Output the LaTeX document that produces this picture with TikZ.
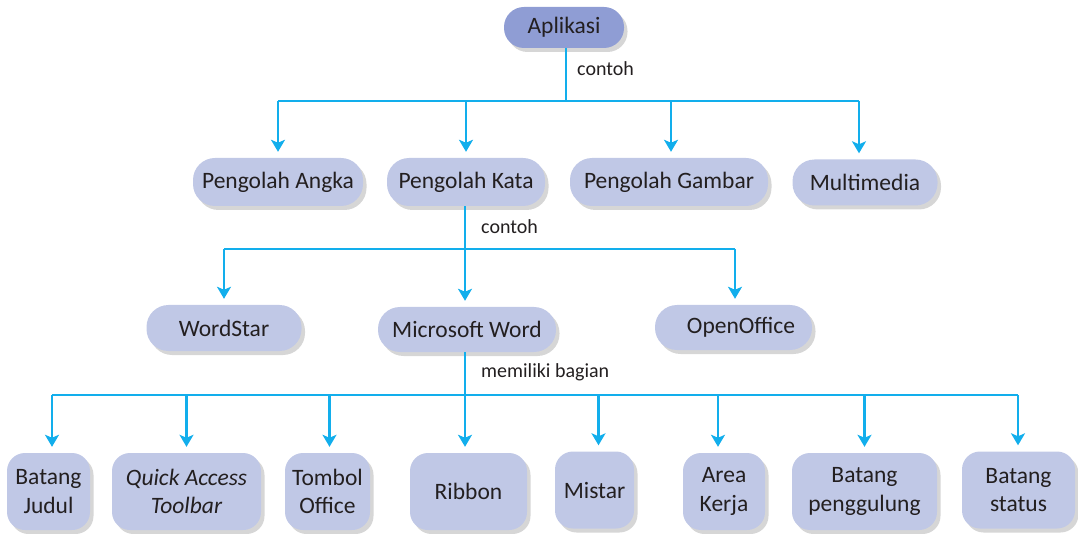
\documentclass[tikz,border=0pt]{standalone}
\usepackage{fontspec}
\setmainfont{Carlito}
\usetikzlibrary{arrows.meta,shadows}
\definecolor{linec}{HTML}{12AEEC}
\definecolor{boxc}{HTML}{C0C8E6}
\definecolor{topc}{HTML}{8F9DD4}
\definecolor{txtc}{HTML}{231F20}
\tikzset{
  box/.style={draw=none, fill=boxc, text=txtc, inner sep=0pt, align=center,
    font=\fontsize{23.5}{28.5}\selectfont,
    drop shadow={shadow xshift=3.5pt, shadow yshift=-4pt, fill=black, opacity=0.16}},
  pill/.style={box, rounded corners=22pt, minimum height=48pt},
  leaf/.style={box, rounded corners=18pt, minimum height=77pt},
  conn/.style={draw=linec, line width=2.6pt},
  arr/.style={conn, -{Stealth[width=14pt,length=12pt,inset=3pt]}, shorten >=6pt},
  lab/.style={anchor=west, text=txtc, font=\fontsize{20}{24}\selectfont, inner sep=0pt}
}
\begin{document}
\begin{tikzpicture}[x=1pt,y=-1pt]
\useasboundingbox (0,0) rectangle (1078,534);
% level 1
\node[pill, fill=topc, rounded corners=20pt, minimum width=120pt, minimum height=41pt] (aplikasi) at (564,27.5) {Aplikasi};
% level 2
\node[pill, minimum width=170pt] (angka) at (278,182) {Pengolah Angka};
\node[pill, minimum width=158pt] (kata) at (466,182) {Pengolah Kata};
\node[pill, minimum width=198pt] (gambar) at (669,182) {Pengolah Gambar};
\node[pill, minimum width=145pt, minimum height=46pt] (multi) at (865,182.5) {Multimedia};
% level 3
\node[pill, minimum width=155pt, minimum height=46pt] (wordstar) at (224,328) {WordStar};
\node[pill, minimum width=178pt, minimum height=45pt] (msword) at (467,329.5) {Microsoft Word};
\node[pill, minimum width=157pt, minimum height=45pt] (oo) at (733.5,327.5) {\hspace*{15pt}OpenOffice};
% level 4
\node[leaf, minimum width=83pt] (judul) at (48.5,491.5) {Batang\\Judul};
\node[leaf, minimum width=149pt] (qat) at (186.5,491.5) {\itshape Quick Access\\\itshape Toolbar};
\node[leaf, minimum width=85pt] (tombol) at (327.5,491.5) {Tombol\\Office};
\node[leaf, minimum width=117pt] (ribbon) at (468.5,491.5) {Ribbon};
\node[leaf, minimum width=79pt] (mistar) at (594.5,490) {Mistar};
\node[leaf, minimum width=82pt] (area) at (724,491.5) {Area\\Kerja};
\node[leaf, minimum width=145pt] (penggulung) at (864.5,491.5) {Batang\\penggulung};
\node[leaf, minimum width=113pt] (status) at (1018.5,490) {Batang\\status};
% bus coordinates
\coordinate (b1) at (566,101);
\coordinate (b1l) at (278,101);
\coordinate (b1r) at (859,101);
\coordinate (b2) at (465,249);
\coordinate (b2l) at (224,249);
\coordinate (b2r) at (735,249);
\coordinate (b3) at (465,395);
\coordinate (b3l) at (52,395);
\coordinate (b3r) at (1018,395);
% level 1 -> 2
\draw[conn] (aplikasi.south -| b1) -- (b1);
\draw[conn] (b1l) -- (b1r);
\draw[arr] (b1l) -- (angka.north -| b1l);
\draw[arr] (kata.north |- b1) -- (kata.north);
\draw[arr] ([xshift=2pt]gambar.north |- b1) -- ([xshift=2pt]gambar.north);
\draw[arr] (b1r) -- (multi.north -| b1r);
\node[lab] (l1) at (577,69) {contoh};
% level 2 -> 3
\draw[conn] (kata.south -| b2) -- (b2);
\draw[conn] (b2l) -- (b2r);
\draw[arr] (b2l) -- (wordstar.north -| b2l);
\draw[arr] (b2) -- (msword.north -| b2);
\draw[arr] (b2r) -- (oo.north -| b2r);
\node[lab] (l2) at (481,227) {contoh};
% level 3 -> 4
\draw[conn] (msword.south -| b3) -- (b3);
\draw[conn] (b3l) -- (b3r);
\draw[arr] (b3l) -- (judul.north -| b3l);
\draw[arr] (qat.north |- b3) -- (qat.north);
\draw[arr] ([xshift=2pt]tombol.north |- b3) -- ([xshift=2pt]tombol.north);
\draw[arr] (b3) -- (ribbon.north -| b3);
\draw[arr] ([xshift=4pt]mistar.north |- b3) -- ([xshift=4pt]mistar.north);
\draw[arr] ([xshift=-6pt]area.north |- b3) -- ([xshift=-6pt]area.north);
\draw[arr] (penggulung.north |- b3) -- (penggulung.north);
\draw[arr] (b3r) -- (status.north -| b3r);
\node[lab] (l3) at (481,372) {memiliki bagian};
\end{tikzpicture}
\end{document}
